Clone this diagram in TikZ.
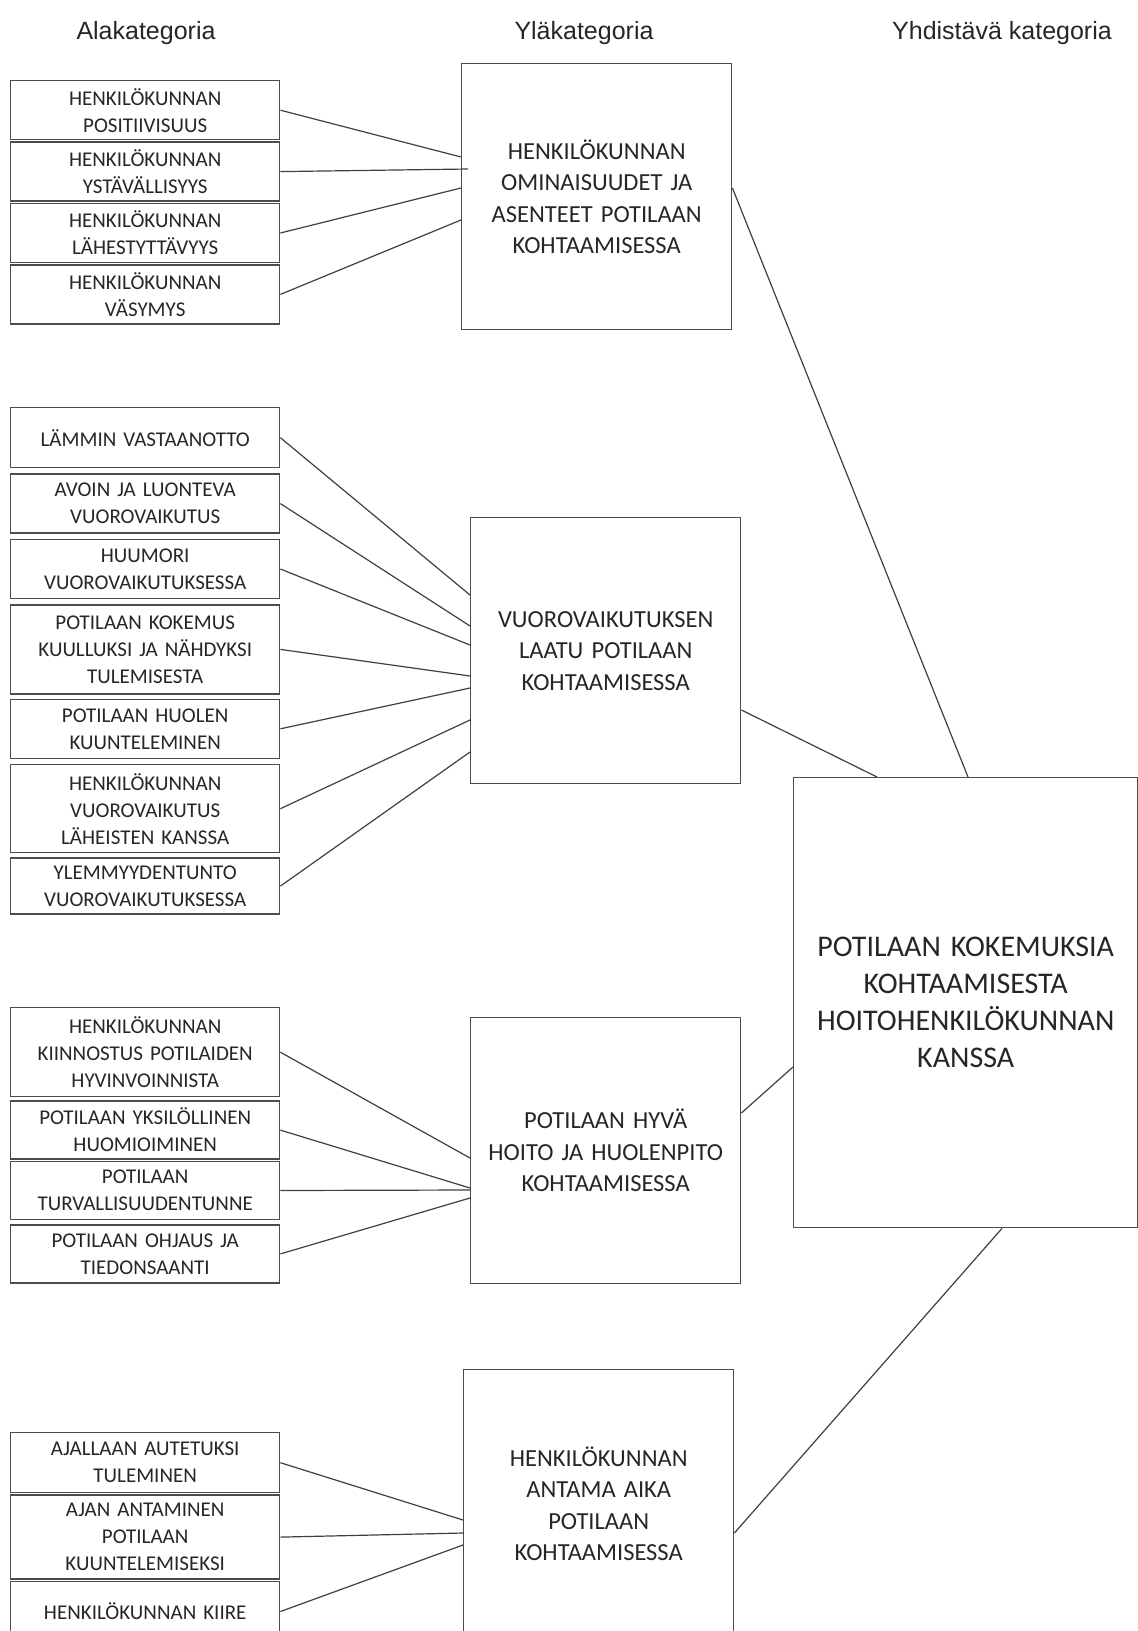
\documentclass[tikz,border=0pt]{standalone}
\usepackage{fontspec}
\setmainfont{Carlito}
\newfontfamily\titlefont{Liberation Sans}
\usetikzlibrary{positioning,calc}

\begin{document}
\begin{tikzpicture}[x=1pt,y=-1pt]
    \tikzstyle{ala} = [draw=black!70, line width=1.4pt, text=black!85, align=center, inner sep=0pt, text width=269pt, minimum height=59pt, font=\fontsize{21}{27}\selectfont]
    \tikzstyle{yla} = [draw=black!70, line width=1.4pt, text=black!85, align=center, inner sep=0pt, text width=270pt, minimum height=266pt, font=\fontsize{24.5}{31.5}\selectfont]
    \tikzstyle{yhd} = [yla, text width=344pt, minimum height=450pt, font=\fontsize{30}{37}\selectfont]
    \tikzstyle{otsikko} = [inner sep=0pt, text=black!85, font=\titlefont\fontsize{25}{30}\selectfont]
    \tikzstyle{yhteys} = [draw=black!75, line width=1.2pt]

    \fill[white] (0,0) rectangle (1138,1631);
    \useasboundingbox (0,0) rectangle (1138,1631);

    % otsikot
    \node[otsikko] (t1) at (146,33) {Alakategoria};
    \node[otsikko] (t2) at (584,33) {Yläkategoria};
    \node[otsikko] (t3) at (1002,33) {Yhdistävä kategoria};

    % yläkategoriat ja yhdistävä kategoria
    \node[yla, anchor=north west] (y1) at (461,63) {HENKILÖKUNNAN\\OMINAISUUDET JA\\ASENTEET POTILAAN\\KOHTAAMISESSA};
    \node[yla, anchor=north west] (y2) at (470,517) {VUOROVAIKUTUKSEN\\LAATU POTILAAN\\KOHTAAMISESSA};
    \node[yla, anchor=north west] (y3) at (470,1017) {POTILAAN HYVÄ\\HOITO JA HUOLENPITO\\KOHTAAMISESSA};
    \node[yla, anchor=north west, minimum height=268pt] (y4) at (463,1369) {HENKILÖKUNNAN\\ANTAMA AIKA\\POTILAAN\\KOHTAAMISESSA};
    \node[yhd, anchor=north west] (yk) at (793,777) {POTILAAN KOKEMUKSIA\\KOHTAAMISESTA\\HOITOHENKILÖKUNNAN\\KANSSA};

    % alakategoriat 1
    \node[ala, anchor=north west] (a1) at (10,80) {HENKILÖKUNNAN\\POSITIIVISUUS};
    \node[ala, below=1pt of a1] (a2) {HENKILÖKUNNAN\\YSTÄVÄLLISYYS};
    \node[ala, below=1pt of a2] (a3) {HENKILÖKUNNAN\\LÄHESTYTTÄVYYS};
    \node[ala, below=1pt of a3] (a4) {HENKILÖKUNNAN\\VÄSYMYS};

    % alakategoriat 2
    \node[ala, anchor=north west, minimum height=60pt] (b1) at (10,407) {LÄMMIN VASTAANOTTO};
    \node[ala, below=5pt of b1] (b2) {AVOIN JA LUONTEVA\\VUOROVAIKUTUS};
    \node[ala, below=5pt of b2] (b3) {HUUMORI\\VUOROVAIKUTUKSESSA};
    \node[ala, below=5pt of b3, minimum height=89pt] (b4) {POTILAAN KOKEMUS\\KUULLUKSI JA NÄHDYKSI\\TULEMISESTA};
    \node[ala, below=4pt of b4] (b5) {POTILAAN HUOLEN\\KUUNTELEMINEN};
    \node[ala, below=5pt of b5, minimum height=88pt] (b6) {HENKILÖKUNNAN\\VUOROVAIKUTUS\\LÄHEISTEN KANSSA};
    \node[ala, below=4pt of b6, minimum height=56pt] (b7) {YLEMMYYDENTUNTO\\VUOROVAIKUTUKSESSA};

    % alakategoriat 3
    \node[ala, anchor=north west, minimum height=89pt] (c1) at (10,1007) {HENKILÖKUNNAN\\KIINNOSTUS POTILAIDEN\\HYVINVOINNISTA};
    \node[ala, below=3pt of c1, minimum height=58pt] (c2) {POTILAAN YKSILÖLLINEN\\HUOMIOIMINEN};
    \node[ala, below=1pt of c2, minimum height=58pt] (c3) {POTILAAN\\TURVALLISUUDENTUNNE};
    \node[ala, below=4pt of c3, minimum height=58pt] (c4) {POTILAAN OHJAUS JA\\TIEDONSAANTI};

    % alakategoriat 4
    \node[ala, anchor=north west, minimum height=60pt] (d1) at (10,1432) {AJALLAAN AUTETUKSI\\TULEMINEN};
    \node[ala, below=1pt of d1, minimum height=84pt] (d2) {AJAN ANTAMINEN\\POTILAAN\\KUUNTELEMISEKSI};
    \node[ala, below=1pt of d2, minimum height=60pt] (d3) {HENKILÖKUNNAN KIIRE};

    % yhteydet
    \foreach \n/\dx/\d in {a1/0/94, a2/7/106, a3/0/125, a4/0/157}
        \draw[yhteys] (\n.east) -- ($(y1.north west)+(\dx,\d)$);
    \foreach \n/\d in {b1/78, b2/109, b3/128, b4/159, b5/171, b6/203, b7/235}
        \draw[yhteys] (\n.east) -- ($(y2.north west)+(0,\d)$);
    \foreach \n/\d in {c1/141, c2/171, c3/173, c4/181}
        \draw[yhteys] (\n.east) -- ($(y3.north west)+(0,\d)$);
    \foreach \n/\d in {d1/151, d2/164, d3/176}
        \draw[yhteys] (\n.east) -- ($(y4.north west)+(0,\d)$);

    \draw[yhteys] ($(y1.north east)+(0,125)$) -- ($(yk.north west)+(175,0)$);
    \draw[yhteys] ($(y2.north east)+(0,193)$) -- ($(yk.north west)+(84,0)$);
    \draw[yhteys] ($(y3.north east)+(0,96)$) -- ($(yk.north west)+(0,290)$);
    \draw[yhteys] ($(y4.north east)+(0,164)$) -- ($(yk.south west)+(209,0)$);
\end{tikzpicture}
\end{document}
